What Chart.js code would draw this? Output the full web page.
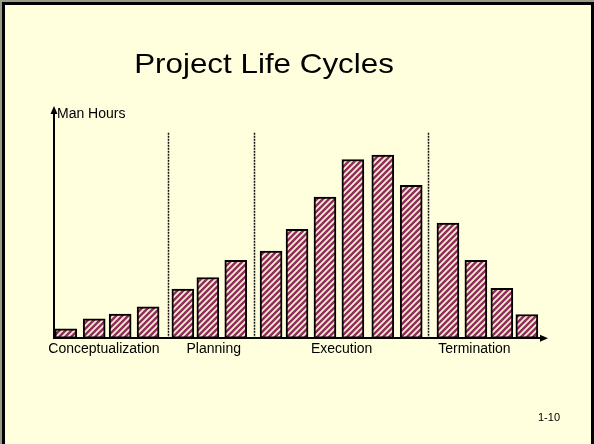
<!DOCTYPE html>
<html>
<head>
<meta charset="utf-8">
<script src="https://cdn.jsdelivr.net/npm/chart.js@4"></script>
<style>
  body { margin: 0; background: #fff; }
  #slide { position: absolute; left: 0; top: 0; width: 594px; height: 444px; background: #9a9a88; overflow: hidden; }
  #face { position: absolute; left: 2px; top: 2px; width: 586px; height: 439px; border: 3px solid #000; border-bottom: none; background: #FFFFDD; }
  #chart { position: absolute; left: 0; top: 0; }
</style>
</head>
<body>
<div id="slide">
  <div id="face"></div>
  <canvas id="chart" width="594" height="444"></canvas>
</div>
<script>
// time position of each bar along the life cycle (0-100)
const periods = [2.4, 8.2, 13.5, 19.2, 26.3, 31.4, 37.1, 44.3, 49.6, 55.3, 61.0, 67.1, 72.9, 80.4, 86.1, 91.4, 96.5];
// relative man hours (0-100)
const manHours = [4.1, 8.5, 10.6, 13.7, 21.5, 26.6, 34.1, 38.2, 47.7, 61.8, 78.3, 80.3, 67.0, 50.5, 34.1, 21.9, 10.4];

const phaseNames = ['Conceptualization', 'Planning', 'Execution', 'Termination'];
const phaseCenters = [10.2, 32.6, 58.7, 85.8];
const phaseBounds = [23.2, 40.8, 76.4];

function stripePattern() {
    const c = document.createElement('canvas');
    c.width = 6;
    c.height = 6;
    const g = c.getContext('2d');
    g.fillStyle = '#FBF3D0';
    g.fillRect(0, 0, 6, 6);
    g.strokeStyle = '#8E2F5C';
    g.lineWidth = 2.5;
    g.beginPath();
    g.moveTo(-1, 1); g.lineTo(1, -1);
    g.moveTo(-1, 7); g.lineTo(7, -1);
    g.moveTo(5, 7); g.lineTo(7, 5);
    g.stroke();
    return g.createPattern(c, 'repeat');
}

const slideDecor = {
    id: 'slideDecor',
    beforeDatasetsDraw(chart) {
        const { ctx, scales: { x, y } } = chart;
        ctx.save();
        ctx.strokeStyle = '#111';
        ctx.lineWidth = 1.5;
        ctx.setLineDash([2, 1]);
        phaseBounds.forEach(b => {
            const px = Math.round(x.getPixelForValue(b)) + 0.5;
            ctx.beginPath();
            ctx.moveTo(px, y.getPixelForValue(90));
            ctx.lineTo(px, y.getPixelForValue(0));
            ctx.stroke();
        });
        ctx.restore();
    },
    afterDraw(chart) {
        const { ctx, chartArea: a } = chart;
        ctx.save();
        ctx.fillStyle = '#000';
        // axis arrow heads
        ctx.beginPath();
        ctx.moveTo(a.left, a.top - 4);
        ctx.lineTo(a.left - 3.5, a.top + 4);
        ctx.lineTo(a.left + 3.5, a.top + 4);
        ctx.closePath();
        ctx.fill();
        ctx.beginPath();
        ctx.moveTo(a.right + 4, a.bottom);
        ctx.lineTo(a.right - 4, a.bottom - 3.5);
        ctx.lineTo(a.right - 4, a.bottom + 3.5);
        ctx.closePath();
        ctx.fill();

        ctx.textBaseline = 'alphabetic';
        ctx.font = '28px "Liberation Sans", Arial, sans-serif';
        ctx.textAlign = 'center';
        ctx.save();
        ctx.translate(264, 73);
        ctx.scale(1.12, 1);
        ctx.fillText('Project Life Cycles', 0, 0);
        ctx.restore();

        ctx.font = '14px "Liberation Sans", Arial, sans-serif';
        ctx.textAlign = 'left';
        ctx.fillText('Man Hours', a.left + 3, 117.5);

        ctx.font = '11px "Liberation Sans", Arial, sans-serif';
        ctx.fillText('1-10', 538, 421);
        ctx.restore();
    }
};

new Chart(document.getElementById('chart').getContext('2d'), {
    type: 'bar',
    data: {
        datasets: [{
            data: periods.map((p, i) => ({ x: p, y: manHours[i] })),
            backgroundColor: stripePattern(),
            borderColor: '#000',
            borderWidth: 2,
            borderSkipped: false,
            barThickness: 22
        }]
    },
    options: {
        responsive: false,
        devicePixelRatio: 1,
        animation: false,
        layout: {
            padding: { left: 54, top: 110, right: 50, bottom: 83 }
        },
        plugins: {
            legend: { display: false },
            tooltip: { enabled: false }
        },
        scales: {
            x: {
                type: 'linear',
                min: 0,
                max: 100,
                offset: false,
                grid: { display: false, offset: false, drawTicks: false },
                border: { color: '#000', width: 2 },
                afterBuildTicks: axis => {
                    axis.ticks = phaseCenters.map(v => ({ value: v }));
                },
                ticks: {
                    autoSkip: false,
                    maxRotation: 0,
                    padding: 3,
                    color: '#000',
                    font: { family: '"Liberation Sans", Arial, sans-serif', size: 14 },
                    callback: (v, i) => phaseNames[i]
                }
            },
            y: {
                min: 0,
                max: 100,
                grid: { display: false, drawTicks: false },
                border: { color: '#000', width: 2 },
                ticks: { display: false }
            }
        }
    },
    plugins: [slideDecor]
});
</script>
</body>
</html>
